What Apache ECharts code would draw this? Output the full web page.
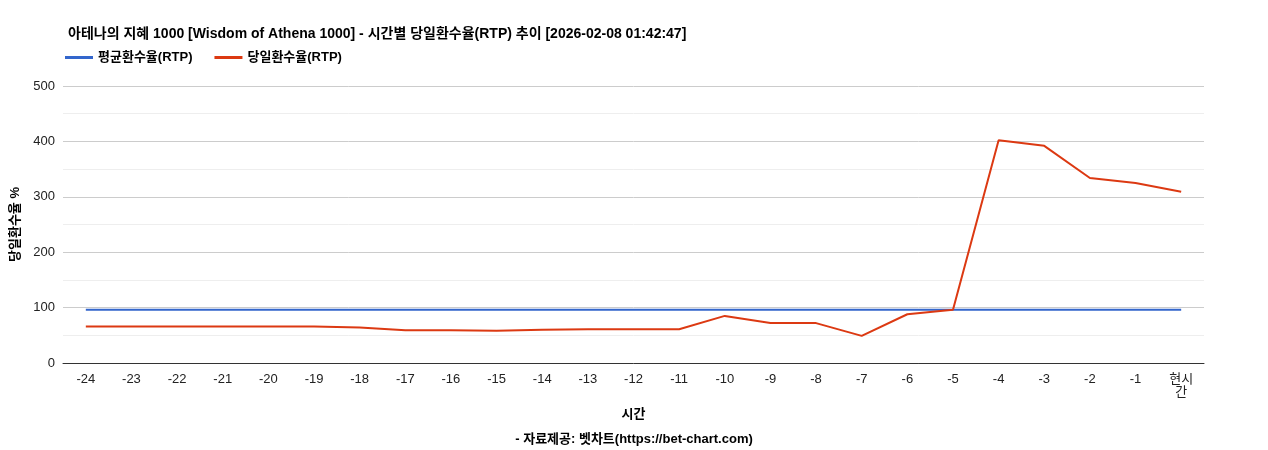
<!DOCTYPE html>
<html>
<head>
<meta charset="utf-8">
<script src="https://cdn.jsdelivr.net/npm/echarts@6/dist/echarts.min.js"></script>
<style>
  html, body { margin: 0; padding: 0; background: #fff; }
  #chart { width: 1268px; height: 450px; }
</style>
</head>
<body>
<div id="chart"></div>
<script>
// hours before now
const hours = ['-24', '-23', '-22', '-21', '-20', '-19', '-18', '-17', '-16', '-15', '-14', '-13',
  '-12', '-11', '-10', '-9', '-8', '-7', '-6', '-5', '-4', '-3', '-2', '-1', '현시간'];
const avgRtp = [96, 96, 96, 96, 96, 96, 96, 96, 96, 96, 96, 96, 96, 96, 96, 96, 96, 96, 96, 96, 96, 96, 96, 96, 96];
const dayRtp = [66, 66, 66, 66, 66, 66, 64, 59, 59, 58, 60, 61, 61, 61, 85, 72, 72, 49, 88, 96, 402, 392, 334, 325, 309];

const font = '"Liberation Sans", "Noto Sans CJK KR", sans-serif';
const chart = echarts.init(document.getElementById('chart'));

chart.setOption({
  animation: false,
  textStyle: { fontFamily: font },
  title: [
    {
      text: '아테나의 지혜 1000 [Wisdom of Athena 1000] - 시간별 당일환수율(RTP) 추이 [2026-02-08 01:42:47]',
      left: 63, top: 22,
      textStyle: { fontSize: 14, fontWeight: 'bold', color: '#000', fontFamily: font }
    },
    {
      text: '- 자료제공: 벳차트(https://bet-chart.com)',
      left: 'center', top: 428,
      textStyle: { fontSize: 13, fontWeight: 'bold', color: '#000', fontFamily: font }
    }
  ],
  legend: {
    left: 60, top: 46,
    itemWidth: 28, itemHeight: 3, itemGap: 22,
    icon: 'rect',
    textStyle: { fontSize: 13, fontWeight: 'bold', color: '#000', fontFamily: font },
    data: ['평균환수율(RTP)', '당일환수율(RTP)']
  },
  grid: { left: 63, right: 64, top: 86, bottom: 87 },
  xAxis: {
    type: 'category',
    data: hours,
    boundaryGap: true,
    name: '시간',
    nameLocation: 'middle',
    nameGap: 45,
    nameTextStyle: { fontSize: 13, fontWeight: 'bold', color: '#000', fontFamily: font },
    axisLine: { lineStyle: { color: '#333' } },
    axisTick: { show: false },
    axisLabel: {
      color: '#222', fontSize: 13, margin: 10, interval: 0, fontFamily: font,
      formatter: v => v === '현시간' ? '현시\n간' : v
    }
  },
  yAxis: {
    type: 'value',
    min: 0, max: 500, interval: 100,
    name: '당일환수율 %',
    nameLocation: 'middle',
    nameGap: 22,
    nameTextStyle: { fontSize: 13, fontWeight: 'bold', color: '#000', fontFamily: font },
    axisLabel: { color: '#222', fontSize: 13, fontFamily: font },
    splitLine: { lineStyle: { color: '#ccc' } },
    minorTick: { show: false, splitNumber: 2 },
    minorSplitLine: { show: true, lineStyle: { color: '#eee' } }
  },
  series: [
    {
      name: '평균환수율(RTP)', type: 'line', data: avgRtp,
      symbol: 'none', lineStyle: { color: '#3366cc', width: 2 }, itemStyle: { color: '#3366cc' }
    },
    {
      name: '당일환수율(RTP)', type: 'line', data: dayRtp,
      symbol: 'none', lineStyle: { color: '#dc3912', width: 2 }, itemStyle: { color: '#dc3912' }
    }
  ]
});
</script>
</body>
</html>
